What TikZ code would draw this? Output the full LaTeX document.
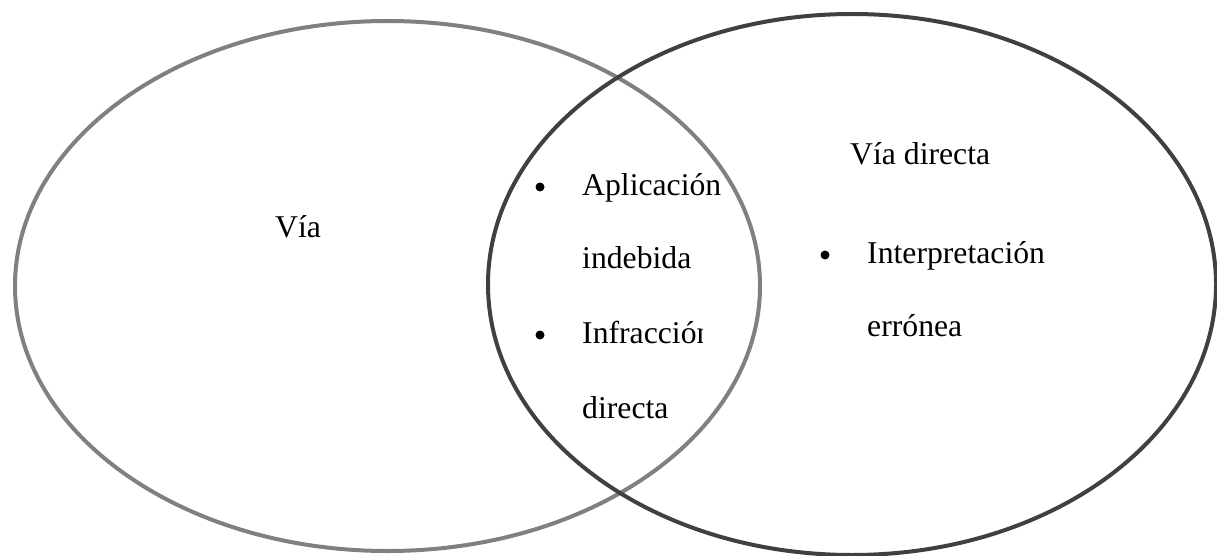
\documentclass[tikz,border=0pt]{standalone}
\usepackage{fontspec}
\setmainfont{Liberation Serif}
\usetikzlibrary{shapes.geometric}
\begin{document}
\begin{tikzpicture}[x=1pt,y=-1pt,
  lbl/.style={anchor=base west,inner sep=0pt,font=\fontsize{31.7}{38}\selectfont},
  dot/.style={circle,fill=black,inner sep=0pt,minimum size=9pt}]
\useasboundingbox (0,0) rectangle (1217,556);
\draw[line width=4pt,color={rgb,255:red,128;green,128;blue,128}] (387.5,286) ellipse [x radius=372.5,y radius=265];
\draw[line width=4pt,color={rgb,255:red,64;green,64;blue,64}] (852,284.5) ellipse [x radius=364,y radius=270.5];
\node[lbl] (via) at (275,237) {Vía};
\node[dot] (b1) at (540,187) {};
\node[lbl] (apl) at (582,195) {Aplicación};
\node[lbl] (ind) at (582,268) {indebida};
\node[dot] (b2) at (540,335) {};
\begin{scope}
\clip (570,290) rectangle (702,360);
\node[lbl] (inf) at (582,343) {Infracción};
\end{scope}
\node[lbl] (dir) at (582,418) {directa};
\node[lbl] (vd) at (850,165) {Vía directa};
\node[dot] (b3) at (825,255) {};
\node[lbl] (int) at (867,263) {Interpretación};
\node[lbl] (err) at (867,336) {errónea};
\end{tikzpicture}
\end{document}
